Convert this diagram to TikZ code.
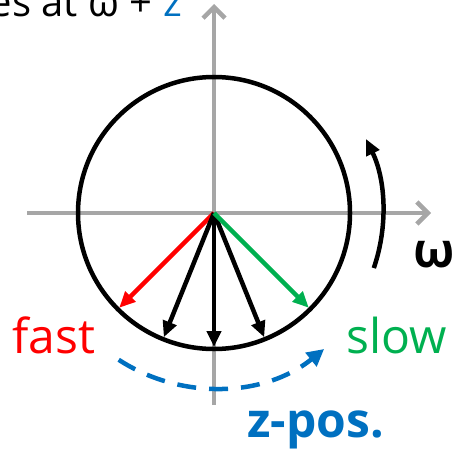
\documentclass[tikz,border=0pt]{standalone}
\usepackage{fontspec}
\setmainfont{Open Sans}
\usetikzlibrary{arrows.meta,calc}
\definecolor{axisgray}{HTML}{A6A6A6}
\definecolor{zblue}{HTML}{0070C0}
\definecolor{sgreen}{HTML}{00B050}
\definecolor{fred}{HTML}{FF0000}
\begin{document}
\begin{tikzpicture}[x=1pt,y=1pt,
  axis/.style={draw=axisgray,line width=4.5pt,-{Straight Barb[length=11pt,width=22pt,line width=4.5pt]}},
  vec/.style={line width=4.5pt,-{Triangle[length=16pt,width=14pt]}},
  lbl/.style={inner sep=0pt,font=\fontsize{48}{56}\selectfont}]
\useasboundingbox (0,0) rectangle (462,448);
\coordinate (O) at (214,235);
% axes
\coordinate (xl) at (27,235);
\coordinate (xr) at (431,235);
\coordinate (yb) at (214,43);
\coordinate (yt) at (214,444);
\draw[axis] (xl) -- (xr);
\draw[axis] (yb) -- (yt);
% circle
\draw[line width=4.5pt] (O) circle[radius=136];
% vectors
\draw[vec,draw=fred] (O) -- ++(-135:134) coordinate (tf);
\draw[vec] (O) -- ++(-112:134) coordinate (tb1);
\draw[vec] (O) -- ++(-90:134) coordinate (tb2);
\draw[vec] (O) -- ++(-68:134) coordinate (tb3);
\draw[vec,draw=sgreen] (O) -- ++(-45:134) coordinate (ts);
% rotation arc
\coordinate (r0) at ($(O)+(-19:169)$);
\draw[vec] (r0) arc[start angle=-19,end angle=26,radius=169];
% dashed z arc
\coordinate (z0) at ($(O)+(-123:175)$);
\draw[line width=4.5pt,draw=zblue,dash pattern=on 19pt off 13pt,-{Triangle[length=17pt,width=17pt]}]
  (z0) arc[start angle=-123,end angle=-51,radius=175];
% labels
\node[lbl,anchor=base west,text=fred] (fast) at (12,95) {fast};
\node[lbl,anchor=base west,text=sgreen] (slow) at (346,95) {slow};
\node[lbl,anchor=base west,font=\fontsize{48}{56}\selectfont\bfseries] (om) at (413,181) {ω};
\node[lbl,anchor=base west,text=zblue,font=\fontsize{48}{56}\selectfont\bfseries] (zp) at (247,11) {z-pos.};
\node[lbl,anchor=base east,font=\fontsize{40}{48}\selectfont] (top) at (182,431)
  {\spaceskip=0.26em es at ω + \textcolor{zblue}{z}};
\end{tikzpicture}
\end{document}
